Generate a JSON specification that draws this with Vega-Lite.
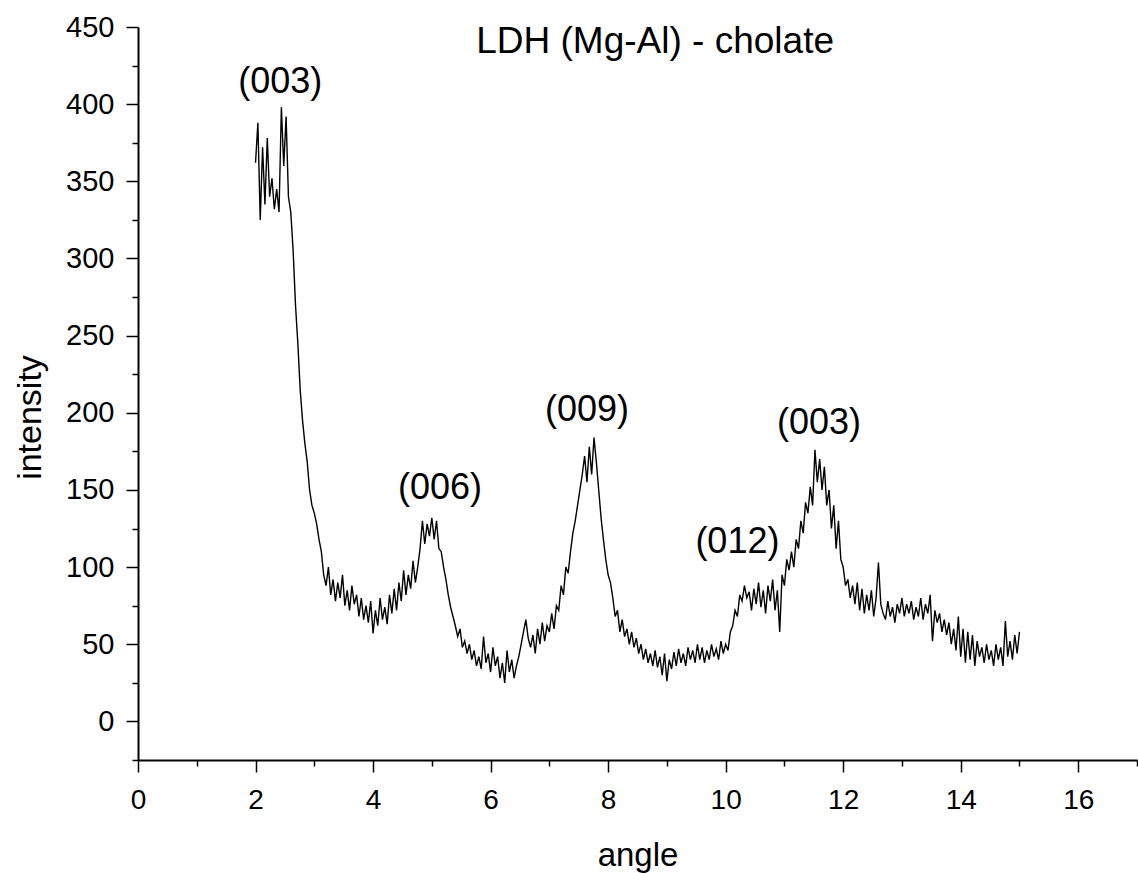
{
  "$schema": "https://vega.github.io/schema/vega-lite/v6.json",
  "width": 999,
  "height": 733,
  "autosize": {"type": "none"},
  "padding": {"left": 138, "top": 27, "right": 1, "bottom": 113},
  "background": "white",
  "config": {
    "view": {"stroke": null},
    "axis": {"grid": false, "domainColor": "black", "domainWidth": 2, "tickColor": "black", "tickWidth": 1.5, "labelColor": "black", "titleColor": "black", "labelFont": "Liberation Sans", "titleFont": "Liberation Sans", "titleFontWeight": "normal", "labelOverlap": false}
  },
  "datasets": {
    "xrd": [
{"a":2.00,"i":362},{"a":2.04,"i":388},{"a":2.08,"i":325},{"a":2.12,"i":372},{"a":2.16,"i":335},{"a":2.20,"i":378},{"a":2.24,"i":340},{"a":2.28,"i":352},{"a":2.32,"i":332},{"a":2.36,"i":345},
{"a":2.40,"i":330},{"a":2.44,"i":398},{"a":2.48,"i":360},{"a":2.52,"i":392},{"a":2.56,"i":340},{"a":2.60,"i":330},{"a":2.64,"i":305},{"a":2.68,"i":270},{"a":2.72,"i":245},{"a":2.76,"i":215},
{"a":2.80,"i":195},{"a":2.84,"i":180},{"a":2.88,"i":168},{"a":2.92,"i":150},{"a":2.96,"i":140},{"a":3.00,"i":135},{"a":3.04,"i":128},{"a":3.08,"i":118},{"a":3.12,"i":110},{"a":3.16,"i":95},
{"a":3.20,"i":88},{"a":3.24,"i":100},{"a":3.28,"i":82},{"a":3.32,"i":92},{"a":3.36,"i":78},{"a":3.40,"i":90},{"a":3.44,"i":80},{"a":3.48,"i":95},{"a":3.52,"i":75},{"a":3.56,"i":85},
{"a":3.60,"i":72},{"a":3.64,"i":88},{"a":3.68,"i":76},{"a":3.72,"i":82},{"a":3.76,"i":68},{"a":3.80,"i":80},{"a":3.84,"i":66},{"a":3.88,"i":75},{"a":3.92,"i":64},{"a":3.96,"i":78},
{"a":4.00,"i":57},{"a":4.04,"i":72},{"a":4.08,"i":62},{"a":4.12,"i":80},{"a":4.16,"i":66},{"a":4.20,"i":74},{"a":4.24,"i":63},{"a":4.28,"i":82},{"a":4.32,"i":70},{"a":4.36,"i":86},
{"a":4.40,"i":72},{"a":4.44,"i":90},{"a":4.48,"i":78},{"a":4.52,"i":98},{"a":4.56,"i":82},{"a":4.60,"i":95},{"a":4.64,"i":86},{"a":4.68,"i":104},{"a":4.72,"i":90},{"a":4.76,"i":100},
{"a":4.80,"i":112},{"a":4.84,"i":130},{"a":4.88,"i":115},{"a":4.92,"i":128},{"a":4.96,"i":120},{"a":5.00,"i":132},{"a":5.04,"i":118},{"a":5.08,"i":130},{"a":5.12,"i":112},{"a":5.16,"i":110},
{"a":5.20,"i":100},{"a":5.24,"i":92},{"a":5.28,"i":82},{"a":5.32,"i":74},{"a":5.36,"i":68},{"a":5.40,"i":62},{"a":5.44,"i":55},{"a":5.48,"i":60},{"a":5.52,"i":48},{"a":5.56,"i":52},
{"a":5.60,"i":44},{"a":5.64,"i":50},{"a":5.68,"i":40},{"a":5.72,"i":46},{"a":5.76,"i":36},{"a":5.80,"i":42},{"a":5.84,"i":34},{"a":5.88,"i":55},{"a":5.92,"i":38},{"a":5.96,"i":44},
{"a":6.00,"i":32},{"a":6.04,"i":48},{"a":6.08,"i":36},{"a":6.12,"i":42},{"a":6.16,"i":28},{"a":6.20,"i":38},{"a":6.24,"i":25},{"a":6.28,"i":46},{"a":6.32,"i":32},{"a":6.36,"i":40},
{"a":6.40,"i":28},{"a":6.44,"i":36},{"a":6.48,"i":42},{"a":6.52,"i":50},{"a":6.56,"i":58},{"a":6.60,"i":66},{"a":6.64,"i":54},{"a":6.68,"i":48},{"a":6.72,"i":56},{"a":6.76,"i":44},
{"a":6.80,"i":60},{"a":6.84,"i":50},{"a":6.88,"i":64},{"a":6.92,"i":52},{"a":6.96,"i":62},{"a":7.00,"i":58},{"a":7.04,"i":70},{"a":7.08,"i":60},{"a":7.12,"i":75},{"a":7.16,"i":72},
{"a":7.20,"i":88},{"a":7.24,"i":82},{"a":7.28,"i":100},{"a":7.32,"i":96},{"a":7.36,"i":110},{"a":7.40,"i":122},{"a":7.44,"i":130},{"a":7.48,"i":140},{"a":7.52,"i":150},{"a":7.56,"i":160},
{"a":7.60,"i":172},{"a":7.64,"i":155},{"a":7.68,"i":178},{"a":7.72,"i":160},{"a":7.76,"i":184},{"a":7.80,"i":168},{"a":7.84,"i":150},{"a":7.88,"i":132},{"a":7.92,"i":118},{"a":7.96,"i":105},
{"a":8.00,"i":95},{"a":8.04,"i":90},{"a":8.08,"i":80},{"a":8.12,"i":68},{"a":8.16,"i":72},{"a":8.20,"i":58},{"a":8.24,"i":66},{"a":8.28,"i":55},{"a":8.32,"i":60},{"a":8.36,"i":50},
{"a":8.40,"i":58},{"a":8.44,"i":48},{"a":8.48,"i":54},{"a":8.52,"i":44},{"a":8.56,"i":50},{"a":8.60,"i":40},{"a":8.64,"i":47},{"a":8.68,"i":38},{"a":8.72,"i":44},{"a":8.76,"i":36},
{"a":8.80,"i":46},{"a":8.84,"i":35},{"a":8.88,"i":42},{"a":8.92,"i":30},{"a":8.96,"i":44},{"a":9.00,"i":26},{"a":9.04,"i":40},{"a":9.08,"i":34},{"a":9.12,"i":45},{"a":9.16,"i":36},
{"a":9.20,"i":47},{"a":9.24,"i":38},{"a":9.28,"i":44},{"a":9.32,"i":36},{"a":9.36,"i":48},{"a":9.40,"i":40},{"a":9.44,"i":46},{"a":9.48,"i":38},{"a":9.52,"i":50},{"a":9.56,"i":40},
{"a":9.60,"i":48},{"a":9.64,"i":38},{"a":9.68,"i":46},{"a":9.72,"i":40},{"a":9.76,"i":50},{"a":9.80,"i":42},{"a":9.84,"i":47},{"a":9.88,"i":40},{"a":9.92,"i":52},{"a":9.96,"i":44},
{"a":10.00,"i":50},{"a":10.04,"i":46},{"a":10.08,"i":58},{"a":10.12,"i":62},{"a":10.16,"i":72},{"a":10.20,"i":68},{"a":10.24,"i":82},{"a":10.28,"i":78},{"a":10.32,"i":88},{"a":10.36,"i":80},
{"a":10.40,"i":84},{"a":10.44,"i":72},{"a":10.48,"i":86},{"a":10.52,"i":76},{"a":10.56,"i":90},{"a":10.60,"i":74},{"a":10.64,"i":85},{"a":10.68,"i":70},{"a":10.72,"i":88},{"a":10.76,"i":78},
{"a":10.80,"i":92},{"a":10.84,"i":72},{"a":10.88,"i":85},{"a":10.92,"i":58},{"a":10.96,"i":95},{"a":11.00,"i":88},{"a":11.04,"i":105},{"a":11.08,"i":98},{"a":11.12,"i":110},{"a":11.16,"i":100},
{"a":11.20,"i":118},{"a":11.24,"i":112},{"a":11.28,"i":130},{"a":11.32,"i":122},{"a":11.36,"i":142},{"a":11.40,"i":135},{"a":11.44,"i":152},{"a":11.48,"i":140},{"a":11.52,"i":176},{"a":11.56,"i":155},
{"a":11.60,"i":170},{"a":11.64,"i":150},{"a":11.68,"i":165},{"a":11.72,"i":140},{"a":11.76,"i":150},{"a":11.80,"i":125},{"a":11.84,"i":140},{"a":11.88,"i":112},{"a":11.92,"i":130},{"a":11.96,"i":105},
{"a":12.00,"i":100},{"a":12.04,"i":88},{"a":12.08,"i":92},{"a":12.12,"i":80},{"a":12.16,"i":88},{"a":12.20,"i":76},{"a":12.24,"i":90},{"a":12.28,"i":72},{"a":12.32,"i":86},{"a":12.36,"i":70},
{"a":12.40,"i":82},{"a":12.44,"i":72},{"a":12.48,"i":85},{"a":12.52,"i":68},{"a":12.56,"i":80},{"a":12.60,"i":103},{"a":12.64,"i":76},{"a":12.68,"i":70},{"a":12.72,"i":66},{"a":12.76,"i":78},
{"a":12.80,"i":68},{"a":12.84,"i":74},{"a":12.88,"i":64},{"a":12.92,"i":76},{"a":12.96,"i":70},{"a":13.00,"i":80},{"a":13.04,"i":68},{"a":13.08,"i":76},{"a":13.12,"i":70},{"a":13.16,"i":78},
{"a":13.20,"i":66},{"a":13.24,"i":74},{"a":13.28,"i":68},{"a":13.32,"i":80},{"a":13.36,"i":66},{"a":13.40,"i":76},{"a":13.44,"i":70},{"a":13.48,"i":82},{"a":13.52,"i":52},{"a":13.56,"i":72},
{"a":13.60,"i":64},{"a":13.64,"i":70},{"a":13.68,"i":58},{"a":13.72,"i":66},{"a":13.76,"i":56},{"a":13.80,"i":64},{"a":13.84,"i":50},{"a":13.88,"i":60},{"a":13.92,"i":46},{"a":13.96,"i":68},
{"a":14.00,"i":42},{"a":14.04,"i":60},{"a":14.08,"i":38},{"a":14.12,"i":58},{"a":14.16,"i":40},{"a":14.20,"i":56},{"a":14.24,"i":36},{"a":14.28,"i":52},{"a":14.32,"i":42},{"a":14.36,"i":48},
{"a":14.40,"i":38},{"a":14.44,"i":50},{"a":14.48,"i":40},{"a":14.52,"i":46},{"a":14.56,"i":36},{"a":14.60,"i":50},{"a":14.64,"i":40},{"a":14.68,"i":48},{"a":14.72,"i":36},{"a":14.76,"i":65},
{"a":14.80,"i":42},{"a":14.84,"i":52},{"a":14.88,"i":40},{"a":14.92,"i":56},{"a":14.96,"i":44},{"a":15.00,"i":58}
    ],
    "peaks": [
      {"a": 2.42, "i": 414.5, "t": "(003)"},
      {"a": 5.14, "i": 151.5, "t": "(006)"},
      {"a": 7.64, "i": 202, "t": "(009)"},
      {"a": 10.2, "i": 116, "t": "(012)"},
      {"a": 11.59, "i": 193.5, "t": "(003)"}
    ],
    "heading": [
      {"a": 8.8, "i": 440, "t": "LDH (Mg-Al) - cholate"}
    ]
  },
  "resolve": {"scale": {"y": "independent"}, "axis": {"y": "independent"}},
  "layer": [
    {
      "data": {"name": "xrd"},
      "mark": {"type": "line", "color": "black", "strokeWidth": 1.4},
      "encoding": {
        "x": {
          "field": "a", "type": "quantitative",
          "scale": {"domain": [0, 17], "nice": false, "zero": false},
          "axis": {
            "title": "angle",
            "values": [0,1,2,3,4,5,6,7,8,9,10,11,12,13,14,15,16,17],
            "format": "d",
            "labelExpr": "datum.value % 2 === 0 && datum.value < 17 ? datum.label : ''",
            "tickSize": {"condition": {"test": "datum.value % 2 === 0", "value": 12}, "value": 6},
            "labelFontSize": 28,
            "labelFont": "Liberation Sans Narrow, Liberation Sans",
            "labelPadding": 14,
            "labelFlush": false,
            "titleFontSize": 33,
            "titlePadding": 25
          }
        },
        "y": {
          "field": "i", "type": "quantitative",
          "scale": {"domain": [-25, 450], "nice": false, "zero": false},
          "axis": {
            "orient": "left",
            "title": "intensity",
            "values": [0,50,100,150,200,250,300,350,400,450],
            "format": "d",
            "tickSize": 12,
            "labelFontSize": 29,
            "labelPadding": 12,
            "labelFlush": false,
            "titleFontSize": 34,
            "titlePadding": 18,
            "titleY": 390
          }
        }
      }
    },
    {
      "data": {"name": "peaks"},
      "mark": {"type": "text", "font": "Liberation Sans", "fontSize": 36, "color": "black", "baseline": "middle", "align": "center"},
      "encoding": {
        "x": {"field": "a", "type": "quantitative"},
        "y": {
          "field": "i", "type": "quantitative",
          "scale": {"domain": [-25, 450], "nice": false, "zero": false},
          "axis": {
            "orient": "left",
            "title": null,
            "values": [-25,25,75,125,175,225,275,325,375,425],
            "tickSize": 6,
            "labels": false,
            "domain": false,
            "offset": 0
          }
        },
        "text": {"field": "t"}
      }
    },
    {
      "data": {"name": "heading"},
      "mark": {"type": "text", "font": "Liberation Sans", "fontSize": 37, "color": "black", "baseline": "middle", "align": "center"},
      "encoding": {
        "x": {"field": "a", "type": "quantitative"},
        "y": {
          "field": "i", "type": "quantitative",
          "scale": {"domain": [-25, 450], "nice": false, "zero": false},
          "axis": null
        },
        "text": {"field": "t"}
      }
    }
  ]
}
